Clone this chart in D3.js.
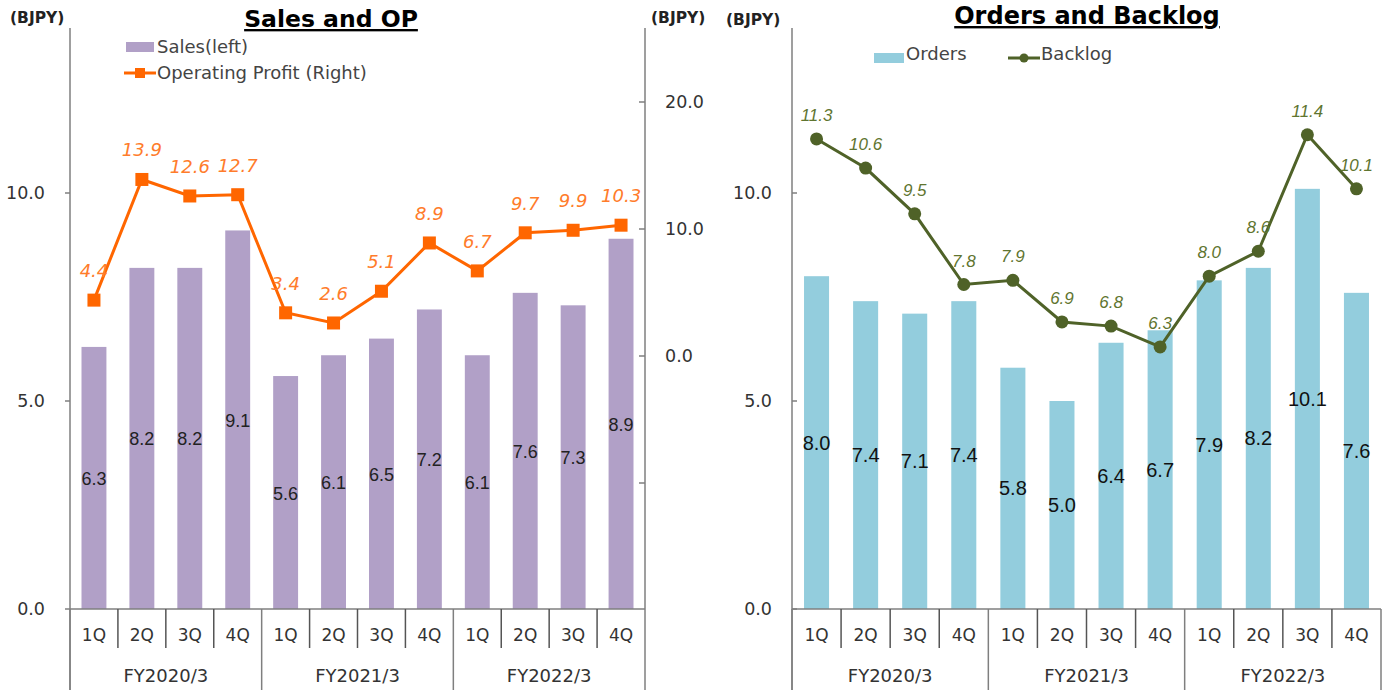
<!DOCTYPE html>
<html><head><meta charset="utf-8">
<script src="https://cdn.jsdelivr.net/npm/d3@7"></script>
<style>body{margin:0;background:#fff}svg{display:block}</style>
</head><body><svg id="c" width="1390" height="690"></svg>
<script>
const quarters = ["1Q","2Q","3Q","4Q","1Q","2Q","3Q","4Q","1Q","2Q","3Q","4Q"];
const fiscalYears = ["FY2020/3","FY2021/3","FY2022/3"];
const sales = [6.3,8.2,8.2,9.1,5.6,6.1,6.5,7.2,6.1,7.6,7.3,8.9];
const operatingProfit = [4.4,13.9,12.6,12.7,3.4,2.6,5.1,8.9,6.7,9.7,9.9,10.3];
const orders = [8.0,7.4,7.1,7.4,5.8,5.0,6.4,6.7,7.9,8.2,10.1,7.6];
const backlog = [11.3,10.6,9.5,7.8,7.9,6.9,6.8,6.3,8.0,8.6,11.4,10.1];
const leftTicks = [0,5,10];
const opTicks = [-10,0,10,20];

const svg = d3.select("#c");
const idx = d3.range(12);
const axisFont = "DejaVu Sans, Verdana, sans-serif";
const numFont = "Liberation Sans, Arial, sans-serif";
const gray = "#7f7f7f";

function drawCategoryAxis(g, x, x0, x1, yBase) {
  const bw = x.step();
  g.append("line").attr("x1",x0).attr("x2",x1).attr("y1",yBase).attr("y2",yBase).attr("stroke",gray).attr("stroke-width",1.5);
  idx.forEach(i=>{
    const xl = x0 + i*bw;
    const isGroup = i%4===0;
    g.append("line").attr("x1",xl).attr("x2",xl).attr("y1",yBase).attr("y2", isGroup?690:yBase+39)
      .attr("stroke", isGroup? gray : "#555").attr("stroke-width",1.5);
    g.append("text").attr("x", x(i)+x.bandwidth()/2).attr("y", yBase+32).attr("text-anchor","middle")
      .attr("font-family",axisFont).attr("font-size",17).attr("fill","#333").text(quarters[i]);
  });
  g.append("line").attr("x1",x1).attr("x2",x1).attr("y1",yBase).attr("y2",690).attr("stroke",gray).attr("stroke-width",1.5);
  fiscalYears.forEach((fy,k)=>{
    g.append("text").attr("x", x0 + (k*4+2)*bw).attr("y", yBase+73).attr("text-anchor","middle")
      .attr("font-family",axisFont).attr("font-size",18).attr("fill","#333").text(fy);
  });
}

// ---------- Left chart: Sales and OP ----------
{
  const x0 = 70, x1 = 645, yBase = 609;
  const x = d3.scaleBand().domain(idx).range([x0,x1]).paddingInner(0.48).paddingOuter(0.24);
  const y = d3.scaleLinear().domain([0,14]).range([yBase, yBase-14*41.6]);
  const y2 = d3.scaleLinear().domain([0,10]).range([356, 229]);
  const g = svg.append("g");

  g.selectAll("rect.bar").data(sales).join("rect").attr("class","bar")
    .attr("x",(d,i)=>x(i)).attr("width",x.bandwidth())
    .attr("y",d=>y(d)).attr("height",d=>yBase-y(d)).attr("fill","#b1a0c7");
  g.selectAll("text.bl").data(sales).join("text").attr("class","bl")
    .attr("x",(d,i)=>x(i)+x.bandwidth()/2).attr("y",d=>(y(d)+yBase)/2+7)
    .attr("text-anchor","middle").attr("font-family",numFont).attr("font-size",18).attr("fill","#222")
    .text(d=>d.toFixed(1));

  // left axis
  g.append("line").attr("x1",x0).attr("x2",x0).attr("y1",28).attr("y2",690).attr("stroke",gray).attr("stroke-width",1.5);
  leftTicks.forEach(t=>{
    g.append("line").attr("x1",x0-5).attr("x2",x0).attr("y1",y(t)).attr("y2",y(t)).attr("stroke",gray).attr("stroke-width",1.5);
    g.append("text").attr("x",45).attr("y",y(t)+6).attr("text-anchor","end")
      .attr("font-family",axisFont).attr("font-size",17.5).attr("fill","#333").text(t.toFixed(1));
  });
  // right axis
  g.append("line").attr("x1",x1).attr("x2",x1).attr("y1",28).attr("y2",yBase).attr("stroke",gray).attr("stroke-width",1.5);
  opTicks.forEach(t=>{
    g.append("line").attr("x1",x1-6).attr("x2",x1).attr("y1",y2(t)).attr("y2",y2(t)).attr("stroke",gray).attr("stroke-width",1.5);
    if (t>=0) g.append("text").attr("x",665).attr("y",y2(t)+6).attr("text-anchor","start")
      .attr("font-family",axisFont).attr("font-size",17.5).attr("fill","#333").text(t.toFixed(1));
  });

  drawCategoryAxis(g, x, x0, x1, yBase);

  const line = d3.line().x((d,i)=>x(i)+x.bandwidth()/2).y(d=>y2(d));
  g.append("path").datum(operatingProfit).attr("d",line).attr("fill","none").attr("stroke","#ff6600").attr("stroke-width",3);
  g.selectAll("rect.m").data(operatingProfit).join("rect").attr("class","m")
    .attr("x",(d,i)=>x(i)+x.bandwidth()/2-6.5).attr("y",d=>y2(d)-6.5).attr("width",13).attr("height",13).attr("fill","#ff6600");
  g.selectAll("text.ol").data(operatingProfit).join("text").attr("class","ol")
    .attr("x",(d,i)=>x(i)+x.bandwidth()/2).attr("y",d=>y2(d)-23)
    .attr("text-anchor","middle").attr("font-family",axisFont).attr("font-style","italic").attr("font-size",18).attr("fill","#ff7c2b")
    .text(d=>d.toFixed(1));

  // titles & units
  g.append("text").attr("x",331).attr("y",27).attr("text-anchor","middle").attr("font-family",axisFont)
    .attr("font-weight","bold").attr("font-size",23.5).attr("text-decoration","underline").attr("fill","#000").text("Sales and OP");
  g.append("text").attr("x",10).attr("y",23).attr("font-family",axisFont).attr("font-weight","bold").attr("font-size",15.5).attr("fill","#222").text("(BJPY)");
  g.append("text").attr("x",651).attr("y",23).attr("font-family",axisFont).attr("font-weight","bold").attr("font-size",15.5).attr("fill","#222").text("(BJPY)");

  // legend
  g.append("rect").attr("x",126).attr("y",42).attr("width",28).attr("height",10).attr("fill","#b1a0c7");
  g.append("text").attr("x",157).attr("y",53).attr("font-family",axisFont).attr("font-size",18).attr("fill","#444").text("Sales(left)");
  g.append("line").attr("x1",124).attr("x2",156).attr("y1",73).attr("y2",73).attr("stroke","#ff6600").attr("stroke-width",3);
  g.append("rect").attr("x",135).attr("y",68).attr("width",10).attr("height",10).attr("fill","#ff6600");
  g.append("text").attr("x",157).attr("y",79).attr("font-family",axisFont).attr("font-size",18).attr("fill","#444").text("Operating Profit (Right)");
}

// ---------- Right chart: Orders and Backlog ----------
{
  const x0 = 792, x1 = 1381, yBase = 609;
  const x = d3.scaleBand().domain(idx).range([x0,x1]).paddingInner(0.49).paddingOuter(0.245);
  const y = d3.scaleLinear().domain([0,14]).range([yBase, yBase-14*41.6]);
  const g = svg.append("g");

  g.selectAll("rect.bar").data(orders).join("rect").attr("class","bar")
    .attr("x",(d,i)=>x(i)).attr("width",x.bandwidth())
    .attr("y",d=>y(d)).attr("height",d=>yBase-y(d)).attr("fill","#93cddd");
  g.selectAll("text.bl").data(orders).join("text").attr("class","bl")
    .attr("x",(d,i)=>x(i)+x.bandwidth()/2).attr("y",d=>(y(d)+yBase)/2+7)
    .attr("text-anchor","middle").attr("font-family",numFont).attr("font-size",20).attr("fill","#111")
    .text(d=>d.toFixed(1));

  g.append("line").attr("x1",x0).attr("x2",x0).attr("y1",28).attr("y2",690).attr("stroke",gray).attr("stroke-width",1.5);
  leftTicks.forEach(t=>{
    g.append("line").attr("x1",x0).attr("x2",x0+5).attr("y1",y(t)).attr("y2",y(t)).attr("stroke",gray).attr("stroke-width",1.5);
    g.append("text").attr("x",772).attr("y",y(t)+6).attr("text-anchor","end")
      .attr("font-family",axisFont).attr("font-size",17.5).attr("fill","#333").text(t.toFixed(1));
  });

  drawCategoryAxis(g, x, x0, x1, yBase);

  const line = d3.line().x((d,i)=>x(i)+x.bandwidth()/2).y(d=>y(d));
  g.append("path").datum(backlog).attr("d",line).attr("fill","none").attr("stroke","#4f6228").attr("stroke-width",3);
  g.selectAll("circle.m").data(backlog).join("circle").attr("class","m")
    .attr("cx",(d,i)=>x(i)+x.bandwidth()/2).attr("cy",d=>y(d)).attr("r",6.5).attr("fill","#4f6228");
  g.selectAll("text.ol").data(backlog).join("text").attr("class","ol")
    .attr("x",(d,i)=>x(i)+x.bandwidth()/2).attr("y",d=>y(d)-18)
    .attr("text-anchor","middle").attr("font-family",numFont).attr("font-style","italic").attr("font-size",17).attr("fill","#5f7530")
    .text(d=>d.toFixed(1));

  g.append("text").attr("x",1087).attr("y",24).attr("text-anchor","middle").attr("font-family",axisFont)
    .attr("font-weight","bold").attr("font-size",24).attr("text-decoration","underline").attr("fill","#000").text("Orders and Backlog");
  g.append("text").attr("x",726).attr("y",25).attr("font-family",axisFont).attr("font-weight","bold").attr("font-size",15.5).attr("fill","#222").text("(BJPY)");

  g.append("rect").attr("x",874).attr("y",53).attr("width",30).attr("height",10).attr("fill","#93cddd");
  g.append("text").attr("x",906).attr("y",60).attr("font-family",axisFont).attr("font-size",18).attr("fill","#444").text("Orders");
  g.append("line").attr("x1",1008).attr("x2",1040).attr("y1",58).attr("y2",58).attr("stroke","#4f6228").attr("stroke-width",3);
  g.append("circle").attr("cx",1024).attr("cy",58).attr("r",4.5).attr("fill","#4f6228");
  g.append("text").attr("x",1041).attr("y",60).attr("font-family",axisFont).attr("font-size",18).attr("fill","#444").text("Backlog");
}
</script></body></html>
